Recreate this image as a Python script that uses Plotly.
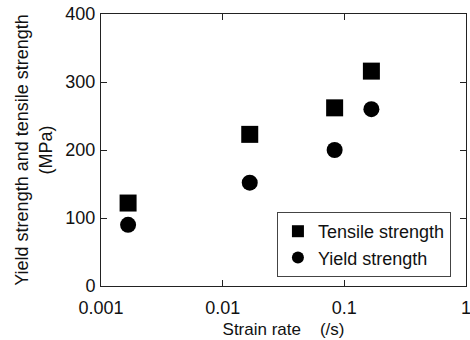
import plotly.graph_objects as go

# Strain rates (1/s) and measured strengths (MPa)
strain_rate = [0.00167, 0.0167, 0.0833, 0.167]
tensile_strength = [122, 223, 262, 316]
yield_strength = [90, 152, 200, 260]

x_tickvals = [0.001, 0.01, 0.1, 1]
x_ticktext = ["0.001", "0.01", "0.1", "1"]
y_tickvals = [0, 100, 200, 300, 400]

FONT = "Liberation Sans, Arial, sans-serif"

fig = go.Figure()
fig.add_trace(go.Scatter(
    x=strain_rate, y=tensile_strength, mode="markers", name="Tensile strength",
    marker=dict(symbol="square", size=17, color="black"),
))
fig.add_trace(go.Scatter(
    x=strain_rate, y=yield_strength, mode="markers", name="Yield strength",
    marker=dict(symbol="circle", size=16, color="black"),
))

axis_common = dict(
    showline=True, linecolor="#222", linewidth=1, mirror="ticks",
    ticks="inside", ticklen=6, tickcolor="#222", tickwidth=1,
    showgrid=False, zeroline=False, automargin=False,
    tickfont=dict(family=FONT, size=18, color="#111"),
)

fig.update_xaxes(
    type="log", range=[-3, 0.0005], tickvals=x_tickvals, ticktext=x_ticktext,
    ticklabelstandoff=5, ticklabeloverflow="allow",
    title=dict(text="Strain rate\u00a0\u00a0\u00a0\u00a0(/s)",
               font=dict(family=FONT, size=17, color="#111"), standoff=6),
    **axis_common,
)
fig.update_yaxes(
    range=[0, 400], tickvals=y_tickvals, ticklabelstandoff=1,
    title=dict(text="Yield strength and tensile strength<br>(MPa)",
               font=dict(family=FONT, size=18, color="#111"), standoff=8),
    **axis_common,
)

fig.update_layout(
    width=470, height=340,
    margin=dict(l=101, r=4, t=14, b=54),
    paper_bgcolor="white", plot_bgcolor="white",
    legend=dict(
        x=0.482, y=0.272, xanchor="left", yanchor="top",
        bordercolor="#444", borderwidth=1, bgcolor="white",
        font=dict(family=FONT, size=18, color="#111"),
        itemsizing="constant", tracegroupgap=0,
    ),
)

fig.write_html("out.html")
